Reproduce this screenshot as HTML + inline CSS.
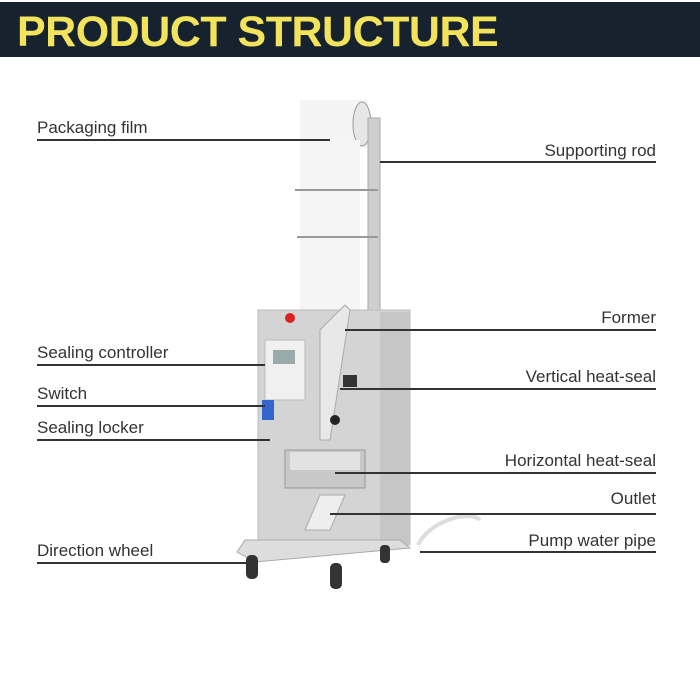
<!DOCTYPE html>
<html><head><meta charset="utf-8"><style>
body{margin:0;width:700px;height:700px;background:#fff;position:relative;overflow:hidden;font-family:"Liberation Sans",sans-serif}
.hd{position:absolute;left:0;top:2px;width:700px;height:55px;background:#16232f}
.hd span{position:absolute;left:17px;top:6px;font-weight:bold;font-size:43px;color:#f3e35c;letter-spacing:-0.5px}
.l{position:absolute;font-size:17px;color:#333;white-space:nowrap}
.r{text-align:right}
.ln{position:absolute;height:2px;background:#333}
</style></head><body>
<div class="hd"><span>PRODUCT STRUCTURE</span></div>
<svg width="700" height="700" style="position:absolute;left:0;top:0">
<rect x="300" y="100" width="68" height="48" fill="#f4f4f4"/>
<ellipse cx="362" cy="124" rx="9" ry="22" fill="#e6e6e6" stroke="#999"/>
<rect x="300" y="140" width="60" height="190" fill="#f5f5f5"/>
<rect x="368" y="118" width="12" height="330" fill="#cfcfcf" stroke="#aaa"/>
<line x1="295" y1="190" x2="378" y2="190" stroke="#999" stroke-width="2"/>
<line x1="297" y1="237" x2="378" y2="237" stroke="#999" stroke-width="2"/>
<rect x="258" y="310" width="152" height="235" fill="#d4d4d4" stroke="#bbb"/>
<rect x="380" y="312" width="30" height="233" fill="#c6c6c6"/>
<circle cx="290" cy="318" r="5" fill="#d22"/>
<rect x="265" y="340" width="40" height="60" fill="#f0f0f0" stroke="#bbb"/>
<rect x="273" y="350" width="22" height="14" fill="#9aa"/>
<rect x="262" y="400" width="12" height="20" fill="#36c"/>
<polygon points="320,330 345,305 350,310 330,440 320,440" fill="#e8e8e8" stroke="#aaa"/>
<rect x="343" y="375" width="14" height="12" fill="#333"/>
<circle cx="335" cy="420" r="5" fill="#222"/>
<rect x="285" y="450" width="80" height="38" fill="#c8c8c8" stroke="#999"/>
<rect x="290" y="452" width="70" height="18" fill="#e2e2e2"/>
<polygon points="320,495 345,495 330,530 305,530" fill="#eee" stroke="#aaa"/>
<polygon points="245,540 400,540 410,548 255,562 237,552" fill="#ddd" stroke="#aaa"/>
<rect x="246" y="555" width="12" height="24" rx="5" fill="#333"/>
<rect x="330" y="563" width="12" height="26" rx="5" fill="#333"/>
<rect x="380" y="545" width="10" height="18" rx="4" fill="#333"/>
<path d="M418,545 C430,520 470,510 480,520" stroke="#ddd" stroke-width="4" fill="none"/>
</svg>
<div class="l" style="left:37px;top:118px">Packaging film</div><div class="ln" style="left:37px;top:139px;width:293px"></div>
<div class="l" style="left:37px;top:343px">Sealing controller</div><div class="ln" style="left:37px;top:364px;width:228px"></div>
<div class="l" style="left:37px;top:384px">Switch</div><div class="ln" style="left:37px;top:405px;width:228px"></div>
<div class="l" style="left:37px;top:418px">Sealing locker</div><div class="ln" style="left:37px;top:439px;width:233px"></div>
<div class="l" style="left:37px;top:541px">Direction wheel</div><div class="ln" style="left:37px;top:562px;width:211px"></div>
<div class="l r" style="right:44px;top:141px">Supporting rod</div><div class="ln" style="left:380px;top:161px;width:276px"></div>
<div class="l r" style="right:44px;top:308px">Former</div><div class="ln" style="left:345px;top:329px;width:311px"></div>
<div class="l r" style="right:44px;top:367px">Vertical heat-seal</div><div class="ln" style="left:340px;top:388px;width:316px"></div>
<div class="l r" style="right:44px;top:451px">Horizontal heat-seal</div><div class="ln" style="left:335px;top:472px;width:321px"></div>
<div class="l r" style="right:44px;top:489px">Outlet</div><div class="ln" style="left:330px;top:513px;width:326px"></div>
<div class="l r" style="right:44px;top:531px">Pump water pipe</div><div class="ln" style="left:420px;top:551px;width:236px"></div>
</body></html>
